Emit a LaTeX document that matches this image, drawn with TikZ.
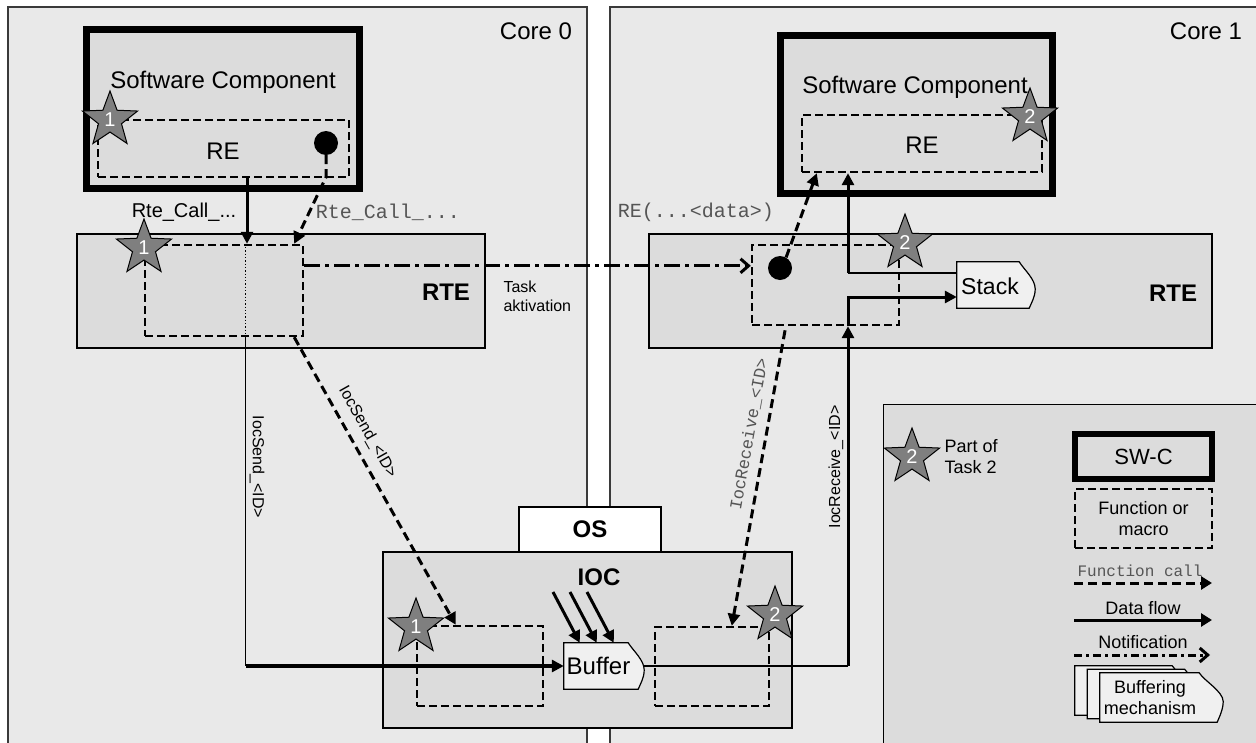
\documentclass[tikz,border=0pt]{standalone}
\usepackage{fontspec}
\setmainfont{Liberation Sans}
\setmonofont{Liberation Mono}
\usetikzlibrary{shapes.geometric,arrows.meta,calc}
\definecolor{corefill}{HTML}{E9E9E9}
\definecolor{boxfill}{HTML}{DCDCDC}
\definecolor{docfill}{HTML}{F0F0F0}
\definecolor{starfill}{HTML}{7F7F7F}
\definecolor{monogray}{HTML}{555555}
\definecolor{edgegray}{HTML}{3A3A3A}
\newcommand{\pxf}[2]{\fontsize{#1}{#2}\selectfont}
\newcommand{\docshape}[3]{%
  \path[draw=black, line width=1.2pt, fill=#3]
    (#1.south west) -- (#1.north west) -- ([xshift=-#2]#1.north east)
    .. controls ([xshift=-#2+5pt, yshift=-8pt]#1.north east) and ([yshift=6pt]#1.east) ..
    ([yshift=-4pt]#1.east)
    .. controls ([yshift=-12pt]#1.east) and ([xshift=-4pt, yshift=5pt]#1.south east) ..
    ([xshift=-6pt]#1.south east) -- cycle;}
\begin{document}
\begin{tikzpicture}[x=1pt, y=-1pt,
  corebox/.style={fill=corefill, draw=edgegray, line width=1.6pt},
  panel/.style={rectangle, fill=boxfill, draw=black, line width=1.2pt, inner sep=0pt},
  swc/.style={rectangle, fill=boxfill, draw=black, line width=6.5pt, inner sep=0pt},
  fnbox/.style={rectangle, draw=black, line width=2.4pt, dash pattern=on 8pt off 4pt, inner sep=0pt},
  blackdot/.style={circle, fill=black, minimum size=24pt, inner sep=0pt},
  taskstar/.style={star, star points=5, star point ratio=2.4, minimum size=58pt, inner sep=0pt, fill=starfill, draw=black, line width=1pt, text=white, font=\pxf{20}{22}},
  flow/.style={line width=3pt, -{Triangle[length=12pt,width=12pt]}},
  fcall/.style={line width=3pt, dash pattern=on 9pt off 5pt, -{Triangle[length=12pt,width=12pt]}},
  fcallback/.style={line width=3pt, dash pattern=on 9pt off 5pt, {Triangle[length=12pt,width=12pt]}-},
  notif/.style={line width=3pt, dash pattern=on 16pt off 5pt on 4pt off 5pt, -{Straight Barb[length=8pt,width=14pt]}},
  thinline/.style={line width=1.3pt},
  bigtxt/.style={font=\pxf{24}{28}},
  bigbold/.style={font=\bfseries\pxf{24}{28}},
  lbl/.style={font=\pxf{20}{24}},
  lblsmall/.style={font=\pxf{16}{19}},
  legendtxt/.style={font=\pxf{18}{21}},
  monotxt/.style={font=\ttfamily\pxf{20}{24}, text=monogray},
  monosmall/.style={font=\ttfamily\pxf{17}{20}, text=monogray},
  ghost/.style={rectangle, draw=none, inner sep=0pt}
]
\useasboundingbox (0,0) rectangle (1256,742);
\clip (0,0) rectangle (1256,742);
\fill[white] (0,0) rectangle (1256,742);
\path[corebox] (8,7) rectangle (587,800);
\path[corebox] (610,7) rectangle (1300,800);
\node[bigtxt] (core0) at (536,31) {Core 0};
\node[bigtxt] (core1) at (1206,31) {Core 1};

% left software component
\node[swc, minimum width=273pt, minimum height=159pt] (swcL) at (223,109) {};
\node[bigtxt] (swcLt) at (223,82) {Software Component};
\node[fnbox, minimum width=251pt, minimum height=57pt] (reL) at (223.5,148.5) {};
\node[bigtxt] (reLt) at (223,151) {RE};
\node[blackdot] (dotL) at (326,143) {};

% right software component
\node[swc, minimum width=272pt, minimum height=158pt] (swcR) at (916.5,114.5) {};
\node[bigtxt] (swcRt) at (915,87) {Software Component};
\node[fnbox, minimum width=240pt, minimum height=57pt] (reR) at (922,143.5) {};
\node[bigtxt] (reRt) at (922,145) {RE};

% RTE
\node[panel, minimum width=408pt, minimum height=114pt] (rteL) at (281,291) {};
\node[bigbold] (rteLt) at (446,292) {RTE};
\node[fnbox, minimum width=158pt, minimum height=91pt] (fnL) at (224,290.5) {};
\node[panel, minimum width=563pt, minimum height=114pt] (rteR) at (930.5,291) {};
\node[bigbold] (rteRt) at (1173,293) {RTE};
\node[fnbox, minimum width=147pt, minimum height=80pt] (fnR) at (825.5,285) {};
\node[blackdot] (dotR) at (780,268) {};
\node[ghost, minimum width=78pt, minimum height=46pt] (stack) at (996,285) {};
\docshape{stack}{16pt}{docfill}
\node[font=\pxf{23}{27}] (stackt) at (990,286) {Stack};

% OS / IOC
\node[panel, fill=white, minimum width=142pt, minimum height=45pt, bigbold] (os) at (590,529.5) {OS};
\node[panel, minimum width=409pt, minimum height=176pt] (ioc) at (587.5,640) {};
\node[bigbold] (ioct) at (599,577) {IOC};
\node[fnbox, minimum width=126pt, minimum height=80pt] (fnIL) at (480,666) {};
\node[fnbox, minimum width=114pt, minimum height=79pt] (fnIR) at (712,666.5) {};
\node[ghost, minimum width=80pt, minimum height=46pt] (buf) at (604,666) {};
\docshape{buf}{16pt}{docfill}
\node[bigtxt] (buft) at (598.5,666) {Buffer};

% RE left -> RTE function
\coordinate (rcA) at ([xshift=23.5pt]reL.south);
\draw[flow] (rcA) -- (rcA |- fnL.north);
\node[lbl] (rteCall1) at (184,212) {Rte\_Call\_...};
\draw[fcall] (dotL.south) -- ++(0,22) -- ([xshift=-10pt]fnL.north east);
\node[monotxt] (rteCall2) at (388,212) {Rte\_Call\_...};

% task activation
\coordinate (nA) at ([yshift=-22pt]fnL.north east);
\draw[notif] (nA) -- (nA -| fnR.west);
\node[lblsmall, align=left, anchor=west] (taskAkt) at (500,296) {Task\\aktivation};

% IocSend data path
\coordinate (sA) at ([xshift=102pt]fnL.south west);
\draw[thinline, dotted] (sA |- fnL.north) -- (sA);
\coordinate (sB) at (sA |- buf.west);
\draw[thinline] (sA) -- (sB);
\node[lblsmall, rotate=-90] (iocSend1) at (257,467) {IocSend\_\textless ID\textgreater};
\draw[flow, line width=3.5pt] (sB) -- (buf.west);

% IocSend function call
\draw[fcall] ([xshift=-10pt]fnL.south east) -- node[pos=0.36, sloped, above=5pt, lblsmall] (iocSend2) {IocSend\_\textless ID\textgreater} ([xshift=40pt]fnIL.north west);

% buffering arrows
\coordinate (in1) at (553,592);
\coordinate (in2) at (570,592);
\coordinate (in3) at (587,592);
\draw[flow] (in1) -- ([xshift=16pt]buf.north west);
\draw[flow] (in2) -- ([xshift=33pt]buf.north west);
\draw[flow] (in3) -- ([xshift=50pt]buf.north west);

% IocReceive data path
\coordinate (rA) at (848,666);
\draw[thinline] (buf.east) -- (rA);
\draw[flow] (rA) -- (rA |- fnR.south);
\node[lblsmall, rotate=90] (iocRecv1) at (836,467) {IocReceive\_\textless ID\textgreater};
\coordinate (kA) at ([yshift=-12pt]stack.west);
\draw[flow] (rA |- fnR.south) |- (kA);
\coordinate (kB) at ([yshift=12pt]stack.west);
\coordinate (kC) at (rA |- kB);
\draw[thinline] (kB) -- (kC);
\draw[flow] (kC) -- (kC |- reR.south);

% RE(...<data>) call
\draw[fcall] (dotR.60) -- ([xshift=16pt]reR.south west);
\node[monotxt] (reData) at (696,212) {RE(...\textless data\textgreater)};

% IocReceive function call
\draw[fcallback] ([xshift=78pt]fnIR.north west) -- node[pos=0.63, sloped, above=5pt, monosmall] (iocRecv2) {IocReceive\_\textless ID\textgreater} ([xshift=35pt]fnR.south west);

% stars
\node[taskstar] (st1) at (110,120) {1};
\node[taskstar] (st2) at (144,248) {1};
\node[taskstar] (st3) at (416,627) {1};
\node[taskstar] (st4) at (1030,117) {2};
\node[taskstar] (st5) at (905,243) {2};
\node[taskstar] (st6) at (775,615) {2};

% legend
\node[panel, anchor=north west, minimum width=450pt, minimum height=400pt] (legend) at (883,404) {};
\node[taskstar] (lgstar) at (912,457) {2};
\node[legendtxt, align=left, anchor=west] (lgpart) at (941,457) {Part of\\Task 2};
\node[swc, minimum width=137pt, minimum height=45pt, font=\pxf{22}{26}] (lgswc) at (1143.5,456.5) {SW-C};
\node[fnbox, minimum width=137pt, minimum height=59pt, align=center, legendtxt] (lgfn) at (1143.5,518.5) {Function or\\macro};
\node[monotxt, font=\ttfamily\pxf{16}{19}] (lgfc) at (1140,571) {Function call};
\coordinate (lgfcA) at (1074,583);
\coordinate (lgfcB) at (1212,583);
\draw[fcall, -{Triangle[length=11pt,width=13pt]}] (lgfcA) -- (lgfcB);
\node[legendtxt] (lgdf) at (1143,608) {Data flow};
\coordinate (lgdfA) at (1074,620);
\coordinate (lgdfB) at (1212,620);
\draw[flow, -{Triangle[length=11pt,width=13pt]}] (lgdfA) -- (lgdfB);
\node[legendtxt] (lgnt) at (1143,642) {Notification};
\coordinate (lgntA) at (1074,655);
\coordinate (lgntB) at (1210,655);
\draw[notif, dash pattern=on 8pt off 4pt on 3pt off 4pt] (lgntA) -- (lgntB);
\node[ghost, minimum width=123pt, minimum height=49pt] (lgb1) at (1136.5,690.5) {};
\node[ghost, minimum width=123pt, minimum height=49pt] (lgb2) at (1149,694) {};
\node[ghost, minimum width=123pt, minimum height=49pt] (lgb3) at (1161.5,697.5) {};
\docshape{lgb1}{26pt}{docfill}
\docshape{lgb2}{26pt}{docfill}
\docshape{lgb3}{24pt}{docfill}
\node[legendtxt, align=center] (lgbt) at (1150,698) {Buffering\\mechanism};
\end{tikzpicture}
\end{document}
